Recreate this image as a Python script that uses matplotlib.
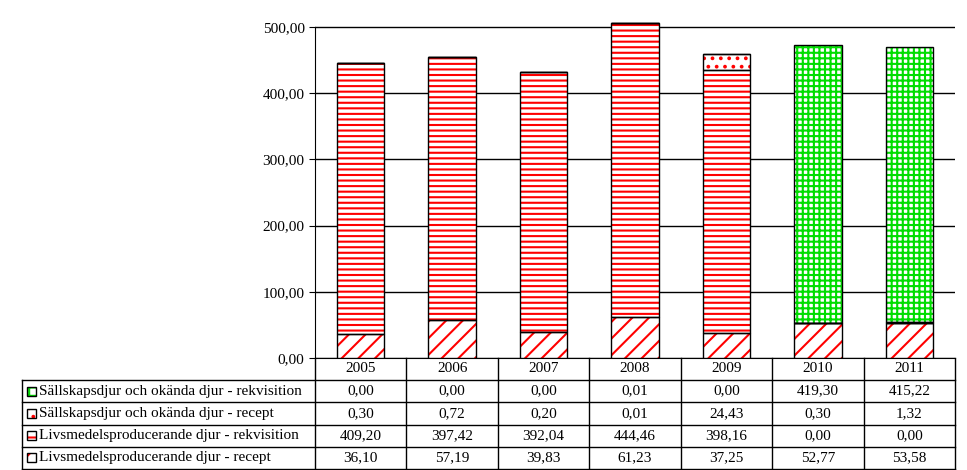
import matplotlib
matplotlib.use("Agg")
import matplotlib.pyplot as plt
from matplotlib.patches import Rectangle
from matplotlib.lines import Line2D

years = ["2005", "2006", "2007", "2008", "2009", "2010", "2011"]
livs_recept = [36.10, 57.19, 39.83, 61.23, 37.25, 52.77, 53.58]
livs_rekv = [409.20, 397.42, 392.04, 444.46, 398.16, 0.00, 0.00]
sall_recept = [0.30, 0.72, 0.20, 0.01, 24.43, 0.30, 1.32]
sall_rekv = [0.00, 0.00, 0.00, 0.01, 0.00, 419.30, 415.22]

series = [
    ("Livsmedelsproducerande djur - recept", livs_recept, "//", "red"),
    ("Livsmedelsproducerande djur - rekvisition", livs_rekv, "---", "red"),
    ("Sällskapsdjur och okända djur - recept", sall_recept, "..", "red"),
    ("Sällskapsdjur och okända djur - rekvisition", sall_rekv, "+++", "#00dd00"),
]
# table rows go top to bottom in reverse stacking order
table_rows = series[::-1]

plt.rcParams["font.family"] = "Liberation Serif"
plt.rcParams["hatch.linewidth"] = 1.5
FS = 11

W, H = 967, 470
x0, x1, y0 = 315, 955, 358
px_per_unit = (358 - 27) / 500
ymax = 512
y1 = y0 - ymax * px_per_unit
fig = plt.figure(figsize=(W / 100, H / 100), dpi=100)
ax = fig.add_axes([x0 / W, 1 - y0 / H, (x1 - x0) / W, (y0 - y1) / H])

n = len(years)
xs = list(range(n))
bottom = [0.0] * n
for name, vals, hatch, col in series:
    ax.bar(xs, vals, width=0.52, bottom=bottom, color="white", edgecolor=col,
           hatch=hatch, linewidth=0, zorder=3)
    ax.bar(xs, vals, width=0.52, bottom=bottom, fill=False, edgecolor="black",
           linewidth=1, zorder=4)
    bottom = [b + v for b, v in zip(bottom, vals)]

ax.set_xlim(-0.5, n - 0.5)
ax.set_ylim(0, ymax)
ax.set_yticks(range(0, 501, 100))
ax.set_yticklabels([f"{v},00" for v in range(0, 501, 100)], fontsize=FS)
ax.yaxis.grid(True, color="black", linewidth=1)
ax.set_axisbelow(True)
ax.set_xticks([])
for s in ["top", "right"]:
    ax.spines[s].set_visible(False)
ax.spines["left"].set_bounds(0, 500)
ax.tick_params(axis="y", length=4)

# data table below
fig_line = lambda xa, ya, xb, yb: fig.add_artist(
    Line2D([xa / W, xb / W], [1 - ya / H, 1 - yb / H], color="black", linewidth=1))
colw = (x1 - x0) / n
bot_tab = H - 1
for i in range(n + 1):
    fig_line(x0 + i * colw, y0, x0 + i * colw, bot_tab)
for i, yr in enumerate(years):
    fig.text((x0 + (i + 0.5) * colw) / W, 1 - (y0 + 11) / H, yr,
             ha="center", va="center", fontsize=FS)
lx = 22
rh = (bot_tab - 380) / len(table_rows)
for r in range(len(table_rows) + 1):
    yy = 380 + r * rh
    fig_line(lx, yy, x1, yy)
fig_line(lx, 380, lx, bot_tab)
for r, (name, vals, hatch, col) in enumerate(table_rows):
    yc = 380 + (r + 0.5) * rh
    fig.add_artist(Rectangle(((lx + 5) / W, 1 - (yc + 4.5) / H), 9 / W, 9 / H,
                             facecolor="white", edgecolor=col, hatch=hatch[:2],
                             linewidth=0, transform=fig.transFigure))
    fig.add_artist(Rectangle(((lx + 5) / W, 1 - (yc + 4.5) / H), 9 / W, 9 / H,
                             fill=False, edgecolor="black", linewidth=1,
                             transform=fig.transFigure))
    fig.text((lx + 17) / W, 1 - yc / H, name, ha="left", va="center", fontsize=FS)
    for i, v in enumerate(vals):
        fig.text((x0 + (i + 0.5) * colw) / W, 1 - yc / H, f"{v:.2f}".replace(".", ","),
                 ha="center", va="center", fontsize=FS)

fig.savefig("out.png", dpi=100)
